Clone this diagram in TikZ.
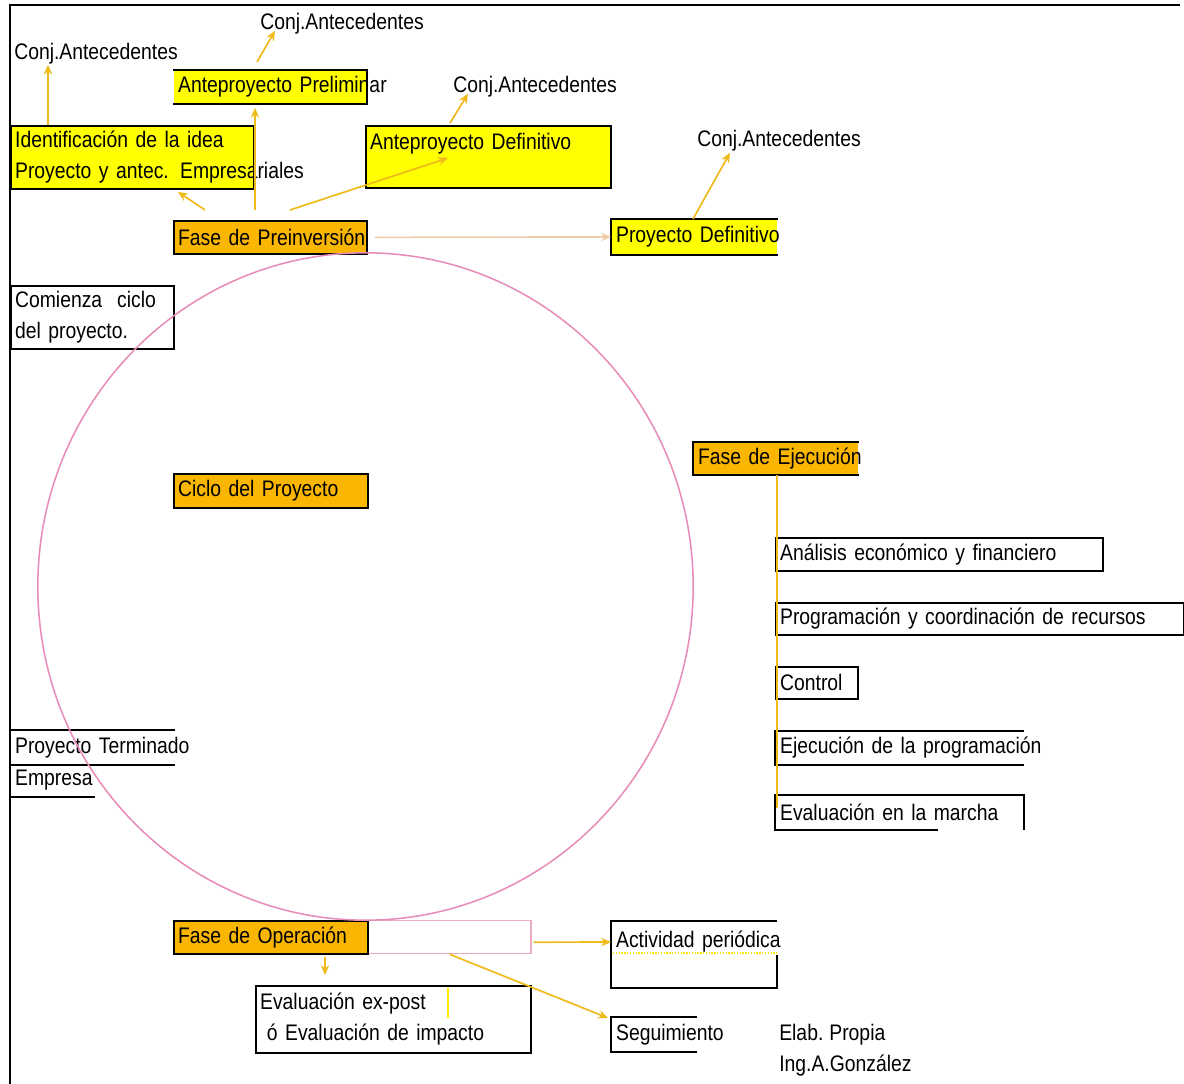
\documentclass[tikz,border=0pt]{standalone}
\usepackage{fontspec}
\setmainfont{Liberation Sans}[FakeStretch=0.86]
\usepackage{tikz}
\usetikzlibrary{calc,arrows.meta}
\definecolor{amarillo}{RGB}{255,255,0}
\definecolor{naranja}{RGB}{250,182,0}
\definecolor{flecha}{RGB}{238,186,28}
\definecolor{durazno}{RGB}{240,204,168}
\definecolor{rosa}{RGB}{232,140,186}
\definecolor{rosaclaro}{RGB}{238,170,190}
\newcommand{\letrapla}{\fontsize{16pt}{22pt}\selectfont\spaceskip=3pt plus 1pt minus 0.5pt\relax}
\tikzset{
	celda/.style={rectangle, anchor=north west, align=left, inner xsep=3pt, inner ysep=0pt, line width=1.3pt, font=\letrapla},
	marco/.style={celda, draw=black},
	nota/.style={anchor=west, align=left, inner sep=0pt, font=\letrapla},
	flechita/.style={line width=1.2pt, color=flecha, -{Stealth[length=7pt,width=6pt]}},
	borde/.style={line width=1.3pt, color=black},
}

\begin{document}
\begin{tikzpicture}[x=0.025cm, y=-0.025cm]
		%%%%% START %%%%%
		\useasboundingbox (0,0) rectangle (1184,1084);
		\draw[borde] (10,1084) -- (10,5) -- (1180,5);
		
		\node[nota] (conj1) at (14,54) {Conj.Antecedentes};
		\node[nota] (conj2) at (260,24) {Conj.Antecedentes};
		\node[nota] (conj3) at (453,87) {Conj.Antecedentes};
		\node[nota] (conj4) at (697,141) {Conj.Antecedentes};
		
		\node[marco, fill=amarillo, text width=5.865cm, minimum height=1.575cm] (idea) at (10,125) {\mbox{Identificación de la idea}\\\mbox{Proyecto y antec. Empresariales}};
		\node[celda, fill=amarillo, text width=4.59cm, minimum height=0.8cm] (antpre) at (173,70) {\mbox{Anteproyecto Preliminar}};
		\draw[borde] (antpre.north west) -- (antpre.north east) -- (antpre.south east) -- (antpre.south west);
		\node[marco, fill=amarillo, text width=5.915cm, minimum height=1.55cm] (antdef) at (365,125) {\mbox{Anteproyecto Definitivo}\\~};
		
		\node[marco, fill=naranja, text width=4.615cm, minimum height=0.825cm] (preinv) at (173,220) {\mbox{Fase de Preinversión}};
		\node[celda, fill=amarillo, text width=3.915cm, minimum height=0.85cm] (proydef) at (611,219) {\mbox{Proyecto Definitivo}};
		\draw[borde] (proydef.north east) -- (proydef.north west) -- (proydef.south west) -- (proydef.south east);
		
		\node[marco, text width=3.865cm, minimum height=1.575cm] (comienza) at (10,285) {\mbox{Comienza\ \ ciclo}\\\mbox{del proyecto.}};
		\node[marco, fill=naranja, text width=4.64cm, minimum height=0.85cm] (ciclo) at (173,473) {\mbox{Ciclo del Proyecto}};
		
		% fase de ejecucion y sus tareas
		\node[celda, fill=naranja, text width=3.89cm, minimum height=0.775cm] (ejec) at (693,442) {\mbox{Fase de Ejecución}};
		\draw[borde] (ejec.north east) -- (ejec.north west) -- (ejec.south west) -- (ejec.south east);
		\node[marco, text width=7.965cm, minimum height=0.825cm] (analisis) at (775,537) {\mbox{Análisis económico y financiero}};
		\node[marco, text width=9.99cm, minimum height=0.8cm] (program) at (775,602) {\mbox{Programación y coordinación de recursos}};
		\node[marco, text width=1.84cm, minimum height=0.8cm] (control) at (775,666) {Control};
		\node[celda, text width=5.965cm, minimum height=0.8cm] (ejecprog) at (775,731) {\mbox{Ejecución de la programación}};
		\draw[borde] (ejecprog.north east) -- (ejecprog.north west) -- (ejecprog.south west) -- (ejecprog.south east);
		\node[celda, text width=5.965cm, minimum height=0.825cm] (evalm) at (775,795) {\mbox{Evaluación en la marcha}};
		\draw[borde] ($(evalm.south west)+(163,0)$) -- (evalm.south west) -- (evalm.north west) -- (evalm.north east) -- (evalm.south east);
		
		\node[celda, text width=3.865cm, minimum height=0.825cm] (terminado) at (10,730) {\mbox{Proyecto Terminado}};
		\draw[borde] (terminado.north west) -- (terminado.north east);
		\draw[borde] (terminado.south west) -- (terminado.south east);
		\node[celda, text width=1.865cm, minimum height=0.8cm] (empresa) at (10,763) {Empresa};
		\draw[borde] (empresa.south west) -- (empresa.south east);
		
		% fase de operacion
		\node[celda, draw=rosaclaro, line width=1pt, minimum width=8.925cm, minimum height=0.825cm] (opbox) at (173,920) {};
		\node[marco, fill=naranja, text width=4.64cm, minimum height=0.825cm] (oper) at (173,920) {\mbox{Fase de Operación}};
		\node[marco, text width=6.665cm, minimum height=1.675cm] (expost) at (255,985) {\mbox{Evaluación ex-post}\\\mbox{\hspace*{0.3em}ó Evaluación de impacto}};
		\node[celda, text width=3.89cm, minimum height=1.625cm] (activ) at (611,921) {\mbox{Actividad periódica}\\~};
		\draw[borde] (activ.north east) -- (activ.north west) -- (activ.south west) -- (activ.south east) -- ($(activ.north east)+(0,34)$);
		\draw[line width=1pt, color=amarillo!80!orange, densely dotted] ($(activ.north west)+(2,32)$) -- ($(activ.north east)+(0,32)$);
		\node[celda, text width=1.89cm, minimum height=0.825cm] (seguim) at (611,1017) {Seguimiento};
		\draw[borde] (seguim.north east) -- (seguim.north west) -- (seguim.south west) -- (seguim.south east);
		
		\node[nota] (elab) at (779,1050) {Elab. Propia\\Ing.A.González};
		
		% ciclo
		\draw[line width=1.1pt, color=rosa] (365.5,586.5) ellipse [x radius=8.19cm, y radius=8.34cm];
		
		% flechas
		\draw[flechita] ($(idea.north west)+(38,0)$) -- ($(conj1.south west)+(34,0)$);
		\draw[flechita] ($(antpre.north west)+(84,-8)$) -- ($(conj2.south west)+(15,-4)$);
		\draw[flechita] ($(preinv.north west)+(82,-10)$) -- ($(antpre.south west)+(82,4)$);
		\draw[flechita] ($(preinv.north west)+(32,-10)$) -- ($(idea.south west)+(168,2)$);
		\draw[flechita] ($(preinv.north west)+(117,-10)$) -- ($(antdef.north west)+(83,33)$);
		\draw[flechita] ($(antdef.north west)+(85,-2)$) -- ($(conj3.south west)+(15,-4)$);
		\draw[flechita] ($(proydef.north west)+(82,0)$) -- ($(conj4.south west)+(33,1)$);
		\draw[flechita, color=durazno] ($(preinv.east)+(7,0)$) -- (proydef.west);
		
		\draw[line width=1.2pt, color=flecha] ($(ejec.south west)+(84,0)$) -- ($(evalm.north west)+(2,13)$);
		
		\draw[flechita] ($(oper.south west)+(152,2)$) -- ($(expost.north west)+(70,-10)$);
		\draw[line width=1.2pt, color=amarillo!85!orange] ($(expost.north west)+(193,3)$) -- ($(expost.north west)+(193,33)$);
		\draw[flechita] ($(opbox.east)+(2,5)$) -- ($(activ.north west)+(0,21)$);
		\draw[flechita] ($(opbox.south west)+(277,0)$) -- ($(seguim.north west)+(-3,1)$);
		
		%%%%% END %%%%%
\end{tikzpicture}
\end{document}
